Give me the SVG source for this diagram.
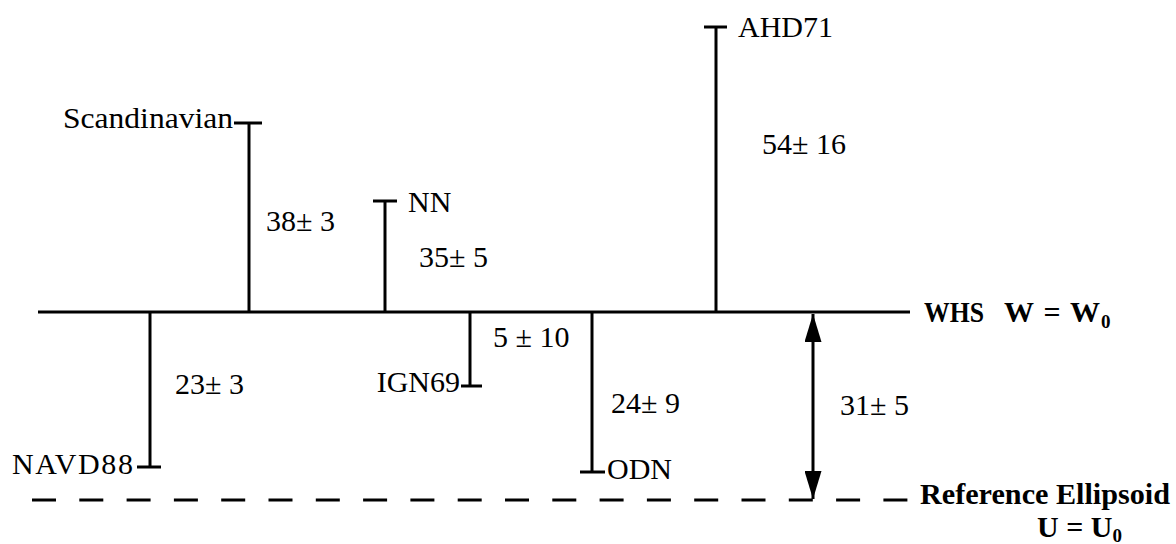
<svg xmlns="http://www.w3.org/2000/svg" width="1176" height="544" viewBox="0 0 1176 544">
<defs>
<style>
text{font-family:"Liberation Serif","Times New Roman",serif;font-size:30px;fill:#000}
.b{font-weight:bold}
.ln{stroke:#000;stroke-width:3;fill:none;stroke-linecap:butt}
.sub{font-size:19px}
</style>
<marker id="ah" viewBox="0 0 10 10" refX="10" refY="5" markerWidth="28" markerHeight="17" markerUnits="userSpaceOnUse" orient="auto-start-reverse" preserveAspectRatio="none">
<path d="M0,0 L10,5 L0,10 z" fill="#000"/>
</marker>
</defs>
<rect width="1176" height="544" fill="#fff"/>
<g id="surfaces">
<line class="ln" x1="38" y1="312" x2="910" y2="312"/>
<line class="ln" x1="32" y1="500" x2="910" y2="500" stroke-dasharray="24 23.3"/>
<text class="b" x="924" y="322" font-size="27" textLength="60" lengthAdjust="spacingAndGlyphs">WHS</text>
<text class="b" x="1004" y="322" font-size="28" textLength="96" lengthAdjust="spacing">W = W</text>
<text class="b sub" x="1101" y="328">0</text>
<text class="b" x="920" y="504" textLength="250" lengthAdjust="spacingAndGlyphs">Reference Ellipsoid</text>
<text class="b" x="1037" y="537" font-size="27">U = U<tspan class="sub" dy="5">0</tspan></text>
</g>
<g id="scandinavian">
<line class="ln" x1="234" y1="123" x2="262" y2="123"/>
<text x="63" y="128" textLength="170" lengthAdjust="spacingAndGlyphs">Scandinavian</text>
<text x="266" y="231">38± 3</text>
</g>
<g id="nn">
<line class="ln" x1="373" y1="201" x2="397" y2="201"/>
<text x="408" y="212">NN</text>
<text x="419" y="267">35± 5</text>
</g>
<g id="ahd71">
<line class="ln" x1="704" y1="27" x2="727" y2="27"/>
<text x="738" y="37">AHD71</text>
<text x="762" y="154">54± 16</text>
</g>
<g id="navd88">
<line class="ln" x1="137" y1="467" x2="161" y2="467"/>
<text x="12" y="474" textLength="121" lengthAdjust="spacing">NAVD88</text>
<text x="175" y="394">23± 3</text>
</g>
<g id="ign69">
<line class="ln" x1="461" y1="386" x2="482" y2="386"/>
<text x="460" y="392" text-anchor="end">IGN69</text>
<text x="493" y="347">5 ± 10</text>
</g>
<g id="odn">
<line class="ln" x1="580" y1="472" x2="605" y2="472"/>
<text x="607" y="479">ODN</text>
<text x="611" y="413">24± 9</text>
</g>
<g id="separation">
<text x="840" y="415">31± 5</text>
</g>
<g id="connectors">
<line class="ln" x1="249" y1="123" x2="249" y2="312"/>
<line class="ln" x1="385" y1="201" x2="385" y2="312"/>
<line class="ln" x1="716" y1="27" x2="716" y2="312"/>
<line class="ln" x1="150" y1="312" x2="150" y2="467"/>
<line class="ln" x1="470" y1="312" x2="470" y2="386"/>
<line class="ln" x1="592" y1="312" x2="592" y2="472"/>
<line class="ln" x1="813" y1="314" x2="813" y2="499" marker-start="url(#ah)" marker-end="url(#ah)"/>
</g>
</svg>
